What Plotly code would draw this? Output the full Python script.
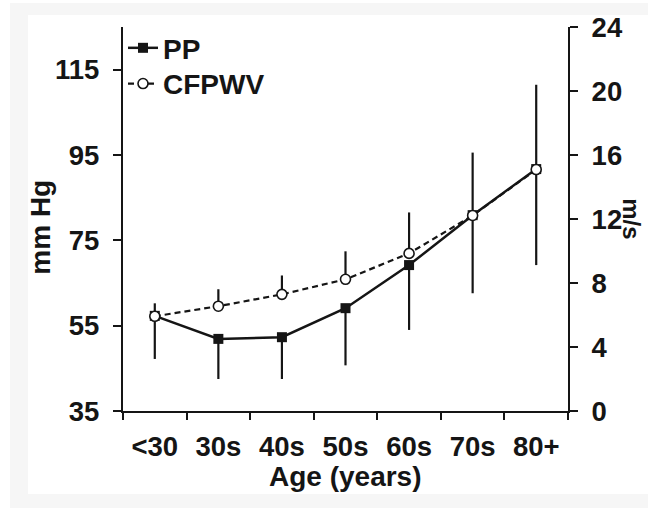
import plotly.graph_objects as go

ages = ["<30", "30s", "40s", "50s", "60s", "70s", "80+"]
pp = [57.3, 51.9, 52.3, 59.1, 69.2, 80.9, 91.7]           # mm Hg (left axis)
pp_err_minus = [10.1, 9.4, 9.8, 13.4, 15.2, 18.3, 22.5]
cfpwv = [5.92, 6.55, 7.29, 8.23, 9.85, 12.22, 15.09]      # m/s (right axis)
cfpwv_err_plus = [0.81, 1.06, 1.18, 1.75, 2.56, 3.93, 5.3]

left_ticks = [35, 55, 75, 95, 115]
right_ticks = [0, 4, 8, 12, 16, 20, 24]

INK = "#151515"
FONT = "Liberation Sans, Arial, Helvetica, sans-serif"

fig = go.Figure()
fig.add_trace(go.Scatter(
    x=ages, y=pp, name="PP", mode="lines+markers",
    line=dict(color=INK, width=2.5),
    marker=dict(symbol="square", size=10, color=INK, line=dict(width=0)),
    error_y=dict(type="data", symmetric=False, array=[0]*len(pp),
                 arrayminus=pp_err_minus, width=0, thickness=2.2, color=INK),
    yaxis="y", legend="legend",
))
fig.add_trace(go.Scatter(
    x=ages, y=cfpwv, name="CFPWV", mode="lines+markers",
    line=dict(color=INK, width=2.2, dash="6px,4px"),
    marker=dict(symbol="circle", size=10, color="white", line=dict(width=1.6, color=INK)),
    error_y=dict(type="data", symmetric=False, array=cfpwv_err_plus,
                 arrayminus=[0]*len(cfpwv), width=0, thickness=2.2, color=INK),
    yaxis="y2", legend="legend2",
))

tick_font = dict(family=FONT, size=27.5, color=INK, weight="bold")
title_font = dict(family=FONT, size=28, color=INK, weight="bold")

axis_common = dict(showgrid=False, zeroline=False, showline=True, linecolor=INK,
                   linewidth=2.2, ticks="outside", tickcolor=INK, tickwidth=2.2,
                   tickfont=tick_font)

legend_common = dict(xanchor="left", yanchor="middle", bgcolor="rgba(0,0,0,0)",
                     font=title_font, itemwidth=30, borderwidth=0)

fig.update_layout(
    width=648, height=509,
    margin=dict(l=123, r=80, t=27, b=98),
    paper_bgcolor="white", plot_bgcolor="white",
    font=dict(family=FONT, color=INK),
    xaxis=dict(**axis_common, type="category", range=[-0.5, 6.5], tickangle=0,
               tickson="boundaries", ticklen=7, ticklabelstandoff=10),
    yaxis=dict(**axis_common, range=[35, 125], tickvals=left_ticks, ticklen=8,
               ticklabelstandoff=8),
    yaxis2=dict(**axis_common, range=[0, 24], tickvals=right_ticks, ticklen=8,
                overlaying="y", side="right", ticklabelstandoff=8),
    showlegend=True,
    legend=dict(**legend_common, x=0.0, y=0.945),
    legend2=dict(**legend_common, x=0.0, y=0.852),
    annotations=[
        dict(text="mm Hg", xref="paper", yref="paper", x=-0.186, y=0.478,
             textangle=-90, showarrow=False, xanchor="center", yanchor="middle",
             font=title_font),
        dict(text="m/s", xref="paper", yref="paper", x=1.176, y=0.5,
             textangle=90, showarrow=False, xanchor="right", yanchor="middle",
             borderpad=0, font=dict(family=FONT, size=24, color=INK, weight="bold")),
        dict(text="Age (years)", xref="paper", yref="paper", x=0.5, y=-0.17,
             showarrow=False, xanchor="center", yanchor="middle",
             font=title_font),
    ],
    shapes=[
        dict(type="rect", xref="paper", yref="paper", x0=-0.254, x1=1.2, y0=-0.2526, y1=1.0625,
             fillcolor="#f6f6f6", line=dict(width=0), layer="below"),
        dict(type="rect", xref="paper", yref="paper", x0=-0.2135, x1=1.2, y0=-0.216, y1=1.03125,
             fillcolor="white", line=dict(width=0), layer="below"),
    ],
)

fig.write_html("out.html")
